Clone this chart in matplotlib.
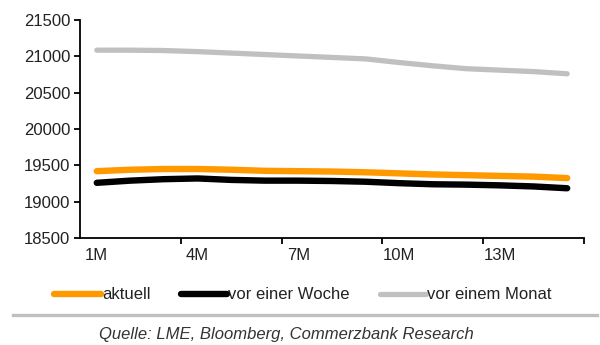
import matplotlib
matplotlib.use("Agg")
import matplotlib.pyplot as plt
from matplotlib.lines import Line2D

plt.rcParams["font.family"] = ["Liberation Sans", "DejaVu Sans"]

months = ["%dM" % m for m in range(1, 16)]
aktuell = [19420, 19440, 19450, 19450, 19440, 19425, 19420, 19415,
           19405, 19390, 19375, 19365, 19355, 19345, 19325]
vor_woche = [19260, 19290, 19310, 19320, 19300, 19290, 19290, 19285,
             19275, 19255, 19240, 19235, 19225, 19210, 19185]
vor_monat = [21085, 21085, 21080, 21065, 21045, 21025, 21005, 20985,
             20965, 20915, 20870, 20830, 20810, 20790, 20760]
y_ticks = [18500, 19000, 19500, 20000, 20500, 21000, 21500]
shown_labels = ["1M", "4M", "7M", "10M", "13M"]

fig = plt.figure(figsize=(6, 3.45), dpi=100)
ax = fig.add_axes([0.1333, 0.31, 0.84, 0.632])

x = list(range(1, len(months) + 1))
ax.plot(x, vor_monat, color="#c0c0c0", lw=3.8, solid_capstyle="round", label="vor einem Monat")
ax.plot(x, aktuell, color="#ff9900", lw=4.6, solid_capstyle="round", label="aktuell")
ax.plot(x, vor_woche, color="#000000", lw=4.6, solid_capstyle="round", label="vor einer Woche")

ax.set_xlim(0.5, len(months) + 0.5)
ax.set_ylim(18500, 21500)
ax.set_yticks(y_ticks)
ax.set_yticklabels([str(v) for v in y_ticks])

lbl_pos = [months.index(m) + 1 for m in shown_labels]
ax.set_xticks(lbl_pos)
ax.set_xticklabels(shown_labels)
ax.set_xticks([p + 0.5 for p in range(3, len(months) + 1, 3)], minor=True)
ax.tick_params(axis="x", which="major", length=0, pad=7, labelsize=12, labelcolor="#222222")
ax.tick_params(axis="x", which="minor", length=4, width=1.3, direction="out")
ax.tick_params(axis="y", length=4, width=1.3, direction="out", pad=3, labelsize=12, labelcolor="#222222")

for side in ["top", "right"]:
    ax.spines[side].set_visible(False)
for side in ["left", "bottom"]:
    ax.spines[side].set_linewidth(1.3)

handles, labels = ax.get_legend_handles_labels()
order = [1, 2, 0]
fig.legend([handles[i] for i in order], [labels[i] for i in order],
           loc="center", bbox_to_anchor=(0.505, 0.145), ncol=3, frameon=False,
           fontsize=12, handlelength=2.8, handletextpad=0.05, columnspacing=1.8,
           labelcolor="#222222")

fig.add_artist(Line2D([0.022, 0.995], [0.087, 0.087], color="#c0c0c0", lw=2.4,
                      transform=fig.transFigure))
fig.text(0.478, 0.029, "Quelle: LME, Bloomberg, Commerzbank Research",
         ha="center", va="center", fontsize=12, style="italic", color="#333333")

fig.savefig("out.png", dpi=100)
